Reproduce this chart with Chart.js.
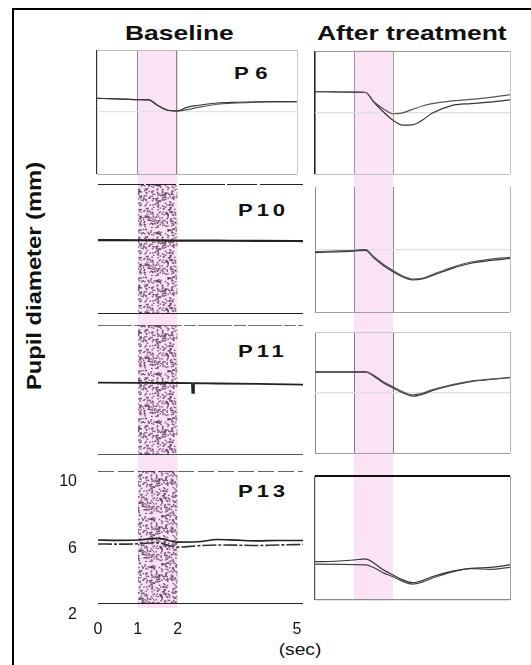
<!DOCTYPE html>
<html>
<head>
<meta charset="utf-8">
<script src="https://cdn.jsdelivr.net/npm/chart.js@4.4.1/dist/chart.umd.min.js"></script>
<style>
  html, body { margin: 0; overflow: hidden; }
  body { background: #fff; width: 531px; height: 665px; position: relative;
         font-family: 'Liberation Sans', Arial, sans-serif; }
  .frame { position: absolute; left: 12px; top: 8px; width: 519px; height: 657px; box-sizing: border-box;
           border-left: 2.5px solid #000; border-top: 2px solid #000; }
  .lbl { position: absolute; font-weight: bold; white-space: nowrap; line-height: 1; color: #111;
         transform-origin: left top; }
</style>
</head>
<body>
<div class="frame"></div>
<div class="lbl" style="left:125px;top:22px;font-size:21px;transform:scaleX(1.26)">Baseline</div>
<div class="lbl" style="left:317px;top:22px;font-size:21px;transform:scaleX(1.26)">After treatment</div>
<div class="lbl" style="left:234px;top:65px;font-size:17px;letter-spacing:5px;transform:scaleX(1.3)">P6</div>
<div class="lbl" style="left:238px;top:202px;font-size:17px;letter-spacing:3px;transform:scaleX(1.3)">P10</div>
<div class="lbl" style="left:238px;top:343px;font-size:17px;letter-spacing:3px;transform:scaleX(1.3)">P11</div>
<div class="lbl" style="left:238px;top:483px;font-size:17px;letter-spacing:3px;transform:scaleX(1.3)">P13</div>
<div class="lbl" style="left:33px;top:276px;font-size:21px;transform-origin:50% 50%;transform:translate(-50%,-50%) rotate(-90deg) scaleX(1.13)">Pupil diameter (mm)</div>
<div class="lbl" style="left:300px;top:650px;font-size:16px;font-weight:normal;transform-origin:50% 50%;transform:translate(-50%,-50%) scaleX(1.2)">(sec)</div>

<script>
// light stimulus on / off (sec)
const stim = [1, 2];
// calibration lines on the baseline recordings (mm)
const calib = [2, 10];
const xTicks = [0, 1, 2, 5];
const yTicks = [10, 6, 2];

// P6 baseline
const tP6Base = [0, 0.5, 1, 1.3, 1.5, 1.75, 2, 2.25, 2.5, 3, 3.5, 4, 4.5, 5];
const p6BaseA = [6.88, 6.85, 6.80, 6.78, 6.45, 6.13, 6.07, 6.30, 6.42, 6.58, 6.63, 6.66, 6.67, 6.66];
const p6BaseB = [6.88, 6.85, 6.80, 6.78, 6.45, 6.13, 6.06, 6.15, 6.28, 6.50, 6.58, 6.63, 6.66, 6.66];

// after treatment, all patients
const tAfter = [0, 0.5, 1, 1.3, 1.5, 1.75, 2, 2.25, 2.5, 2.75, 3, 3.5, 4, 4.5, 5];
const p6AfterA = [7.36, 7.34, 7.32, 7.30, 6.72, 6.25, 5.92, 5.98, 6.20, 6.42, 6.58, 6.75, 6.85, 6.98, 7.16];
const p6AfterB = [7.36, 7.34, 7.32, 7.30, 6.70, 6.05, 5.50, 5.18, 5.20, 5.50, 5.95, 6.45, 6.58, 6.68, 6.82];
const p10AfterA = [5.86, 5.90, 5.95, 6.00, 5.55, 5.05, 4.65, 4.30, 4.10, 4.15, 4.38, 4.85, 5.20, 5.38, 5.50];
const p10AfterB = [5.80, 5.85, 5.90, 5.95, 5.48, 4.98, 4.58, 4.24, 4.06, 4.12, 4.33, 4.78, 5.12, 5.30, 5.43];
const p11AfterA = [7.38, 7.38, 7.38, 7.38, 7.16, 6.71, 6.38, 6.05, 5.85, 5.95, 6.17, 6.50, 6.75, 6.88, 7.00];
const p11AfterB = [7.34, 7.34, 7.34, 7.34, 7.10, 6.65, 6.30, 5.98, 5.76, 5.88, 6.12, 6.47, 6.72, 6.86, 6.98];
const p13AfterA = [4.47, 4.50, 4.58, 4.65, 4.40, 3.95, 3.61, 3.30, 3.12, 3.25, 3.50, 3.85, 4.05, 4.10, 4.26];
const p13AfterB = [4.32, 4.30, 4.28, 4.26, 4.10, 3.75, 3.50, 3.20, 3.03, 3.15, 3.40, 3.80, 4.02, 3.98, 4.11];

// baseline recordings (flat, no light reflex)
const tP10Base = [0, 1, 2, 3, 4, 5.15];
const p10Base = [6.55, 6.54, 6.52, 6.51, 6.50, 6.49];
const tP11Base = [0, 1, 2, 2.36, 2.37, 2.40, 2.41, 3, 4, 5.15];
const p11Base = [6.45, 6.44, 6.43, 6.42, 5.82, 5.82, 6.42, 6.40, 6.38, 6.33];
const tP13Base = [0, 0.5, 1, 1.5, 2, 2.5, 3, 3.5, 4, 4.5, 5.15];
const p13BaseA = [5.85, 5.83, 5.85, 5.95, 5.72, 5.74, 5.88, 5.84, 5.80, 5.82, 5.82];
const p13BaseB = [5.61, 5.60, 5.62, 5.69, 5.42, 5.50, 5.55, 5.54, 5.52, 5.55, 5.58];

const FONT = "'Liberation Sans', Arial, sans-serif";
const TRACE = '#353535';
const PINK = '#fbe2f5';
const NONE = 'rgba(0,0,0,0)';

function addCanvas(left, top, w, h) {
    const c = document.createElement('canvas');
    c.width = w;
    c.height = h;
    c.style.cssText = `position:absolute;left:${left}px;top:${top}px;width:${w}px;height:${h}px`;
    document.body.appendChild(c);
    return c;
}

function trace(xs, ys, opts) {
    return Object.assign({
        data: xs.map((x, i) => ({ x: x, y: ys[i] })),
        borderColor: TRACE,
        borderWidth: 1.2,
        pointRadius: 0,
        cubicInterpolationMode: 'monotone',
        fill: false
    }, opts || {});
}

function flat(y, xMax, opts) {
    return trace([0, xMax], [y, y], opts);
}

function band(top, bottom, color) {
    return {
        data: [{ x: stim[0], y: top }, { x: stim[1], y: top }],
        borderWidth: 0,
        pointRadius: 0,
        tension: 0,
        fill: { value: bottom },
        backgroundColor: color
    };
}

// no label overflow padding, so the plot box stays where it is put
function noPad(s) {
    s.paddingTop = 0;
    s.paddingBottom = 0;
    s.paddingLeft = 0;
    s.paddingRight = 0;
}

// lines = { value: [colour, width] } drawn as grid lines
function hiddenAxis(min, max, lines, horizontal) {
    const vals = Object.keys(lines).map(Number);
    return {
        type: 'linear',
        min: min,
        max: max,
        ticks: { display: false },
        border: { display: false },
        grid: {
            drawTicks: false,
            color: ctx => (lines[ctx.tick.value] || [NONE])[0],
            lineWidth: ctx => (lines[ctx.tick.value] || [NONE, 0])[1]
        },
        afterBuildTicks: s => { s.ticks = vals.map(v => ({ value: v })); },
        afterFit: s => {
            if (horizontal) s.height = 0; else s.width = 0;
            noPad(s);
        }
    };
}

function baseOptions() {
    return {
        responsive: false,
        animation: false,
        devicePixelRatio: 1,
        plugins: { legend: { display: false }, tooltip: { enabled: false } }
    };
}

function panel(box, xMax, yRange, xLines, yLines, datasets) {
    const pad = 4;
    const c = addCanvas(box[0] - pad, box[1] - pad, box[2] - box[0] + 2 * pad, box[3] - box[1] + 2 * pad);
    const opts = baseOptions();
    opts.layout = { padding: pad };
    opts.scales = {
        x: hiddenAxis(0, xMax, xLines, true),
        y: hiddenAxis(yRange[0], yRange[1], yLines, false)
    };
    return new Chart(c, { type: 'line', data: { datasets: datasets }, options: opts });
}

function stipple() {
    const c = document.createElement('canvas');
    c.width = 48;
    c.height = 48;
    const g = c.getContext('2d');
    g.fillStyle = 'rgba(80,45,80,0.72)';
    let s = 11;
    for (let i = 0; i < 420; i++) {
        s = (s * 9301 + 49297) % 233280;
        const x = s / 233280 * 48;
        s = (s * 9301 + 49297) % 233280;
        const y = s / 233280 * 48;
        g.fillRect(x, y, 1.6, 1.4);
    }
    return g.createPattern(c, 'repeat');
}

const DOTS = stipple();
const LEFT = [98, 303];
const LEFT_P6 = [97, 297];
const RIGHT = [315, 510];
const XL = 5.15;

// pink stimulus columns behind the panels
panel([LEFT[0], 50, LEFT[1], 608], XL, [0, 1], {}, {}, [band(1, 0, PINK)]);
panel([RIGHT[0], 50, RIGHT[1], 600], 5, [0, 1], {}, {}, [band(1, 0, PINK)]);

// ---- Baseline column ----
panel([LEFT_P6[0], 50, LEFT_P6[1], 174], 5, [2, 10],
    { 0: ['#333', 1.2], 1: ['#8c8c8c', 1], 2: ['#9a7690', 1.2], 5: ['#cfcfcf', 1] },
    { 10: ['#bdbdbd', 1], 6: ['#e2e2e2', 1.2], 2: ['#b0b0b0', 1] },
    [trace(tP6Base, p6BaseA), trace(tP6Base, p6BaseB, { borderColor: '#555' })]);

panel([LEFT[0], 184, LEFT[1], 314], XL, [2, 10], {}, {},
    [trace(tP10Base, p10Base, { borderWidth: 2.2, borderColor: '#222' }),
     flat(calib[1], XL, { borderWidth: 2, borderColor: '#222', borderDash: [46, 2, 30, 3] }),
     flat(calib[0], XL, { borderWidth: 2, borderColor: '#222' }),
     band(calib[1], calib[0], DOTS)]);

panel([LEFT[0], 325, LEFT[1], 455], XL, [2, 10], {}, {},
    [trace(tP11Base, p11Base, { borderWidth: 1.8, borderColor: '#222', cubicInterpolationMode: 'default', tension: 0 }),
     flat(calib[1], XL, { borderWidth: 1.5, borderColor: '#444', borderDash: [34, 2, 12, 2] }),
     flat(calib[0], XL, { borderWidth: 1.6, borderColor: '#222' }),
     band(calib[1], calib[0], DOTS)]);

// P13 baseline carries the axes
(function () {
    const c = addCanvas(40, 466, 270, 199);
    const opts = baseOptions();
    opts.layout = { padding: { left: 0, top: 5, right: 7, bottom: 0 } };
    opts.scales = {
        x: {
            type: 'linear', min: 0, max: XL,
            border: { display: false },
            grid: { display: false, drawTicks: false },
            ticks: { color: '#111', font: { family: FONT, size: 16 }, padding: 16, maxRotation: 0 },
            afterBuildTicks: s => { s.ticks = xTicks.map(v => ({ value: v })); },
            afterFit: s => { s.height = 61; noPad(s); }
        },
        y: {
            type: 'linear', min: 2, max: 10,
            border: { display: false },
            grid: { display: false, drawTicks: false },
            ticks: { color: '#111', font: { family: FONT, size: 16 }, padding: 21, labelOffset: 11 },
            afterBuildTicks: s => { s.ticks = yTicks.map(v => ({ value: v })); },
            afterFit: s => { s.width = 58; noPad(s); }
        }
    };
    new Chart(c, {
        type: 'line',
        data: {
            datasets: [
                trace(tP13Base, p13BaseA, { borderWidth: 1.6, borderColor: '#222' }),
                trace(tP13Base, p13BaseB, { borderWidth: 1.6, borderColor: '#333', borderDash: [14, 2, 3, 2] }),
                flat(calib[1], XL, { borderWidth: 1.6, borderColor: '#333', borderDash: [16, 4] }),
                flat(calib[0], XL, { borderWidth: 1.8, borderColor: '#222' }),
                band(calib[1], calib[0], DOTS)
            ]
        },
        options: opts
    });
})();

// ---- After treatment column ----
panel([RIGHT[0], 51, RIGHT[1], 174], 5, [2, 10],
    { 0: ['#222', 1.6], 1: ['#999', 1], 2: ['#a0a0a0', 1], 5: ['#c4c4c4', 1] },
    { 10: ['#9c9c9c', 1], 6: ['#e0e0e0', 1.2], 2: ['#c0c0c0', 1] },
    [trace(tAfter, p6AfterA, { borderColor: '#555' }), trace(tAfter, p6AfterB)]);

panel([RIGHT[0], 187, RIGHT[1], 312], 5, [2, 10],
    { 0: ['#8a8a8a', 1], 1: ['#8a8a8a', 1], 2: ['#8a8a8a', 1], 5: ['#b4b4b4', 1] },
    { 6: ['#e0e0e0', 1.2], 2: ['#a0a0a0', 1] },
    [trace(tAfter, p10AfterA, { borderColor: '#555' }), trace(tAfter, p10AfterB)]);

panel([RIGHT[0], 332, RIGHT[1], 453], 5, [2, 10],
    { 0: ['#8a8a8a', 1], 1: ['#7c7c7c', 1], 2: ['#7c7c7c', 1], 5: ['#b4b4b4', 1] },
    { 10: ['#c8c8c8', 1], 6: ['#e0e0e0', 1.2], 2: ['#a0a0a0', 1] },
    [trace(tAfter, p11AfterA, { borderColor: '#555' }), trace(tAfter, p11AfterB)]);

panel([RIGHT[0], 476, RIGHT[1], 600], 5, [2, 10],
    { 0: ['#555', 1.2], 5: ['#9c9c9c', 1] },
    { 10: ['#111', 2], 2: ['#8c8c8c', 1.2] },
    [trace(tAfter, p13AfterA), trace(tAfter, p13AfterB, { borderColor: '#444' })]);
</script>
</body>
</html>
